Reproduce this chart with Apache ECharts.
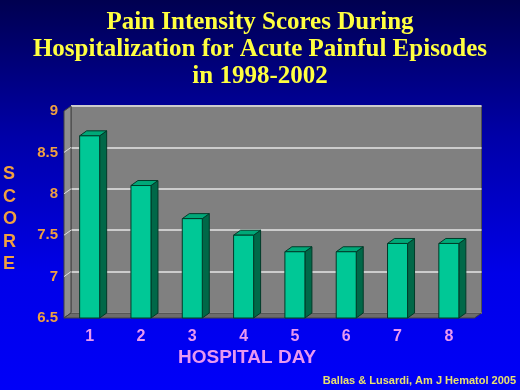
<!DOCTYPE html>
<html>
<head>
<meta charset="utf-8">
<script src="https://cdn.jsdelivr.net/npm/echarts@6/dist/echarts.min.js"></script>
<style>
  html, body { margin: 0; padding: 0; }
  #chart { width: 520px; height: 390px; }
</style>
</head>
<body>
<div id="chart"></div>
<script>
const days = ['1', '2', '3', '4', '5', '6', '7', '8']
const scores = [8.7, 8.1, 7.7, 7.5, 7.3, 7.3, 7.4, 7.4]
const yMin = 6.5
const yMax = 9
const yStep = 0.5

// depth of the fake 3D look (pixels)
const DX = 7
const DY = -5

const chart = echarts.init(document.getElementById('chart'))

function renderBar(params, api) {
  const idx = api.value(0)
  const top = api.coord([idx, api.value(1)])
  const base = api.coord([idx, yMin])
  const band = api.size([1, 0])[0]
  const w = band * 0.39
  const x = top[0] - w / 2
  const yt = top[1]
  const yb = base[1]
  const stroke = '#003a28'
  return {
    type: 'group',
    children: [
      {
        type: 'polygon',
        shape: { points: [[x + w, yt], [x + w + DX, yt + DY], [x + w + DX, yb + DY], [x + w, yb]] },
        style: { fill: '#006848', stroke: stroke, lineWidth: 1 }
      },
      {
        type: 'polygon',
        shape: { points: [[x, yt], [x + DX, yt + DY], [x + w + DX, yt + DY], [x + w, yt]] },
        style: { fill: '#00a878', stroke: stroke, lineWidth: 1 }
      },
      {
        type: 'rect',
        shape: { x: x, y: yt, width: w, height: yb - yt },
        style: { fill: '#00c896', stroke: stroke, lineWidth: 1 }
      }
    ]
  }
}

// floor and left wall drawn once from the front axes
function renderFrame(params, api) {
  const band = api.size([1, 0])[0]
  const first = api.coord([0, yMax])
  const last = api.coord([days.length - 1, yMin])
  const xl = first[0] - band / 2
  const xr = last[0] + band / 2
  const yt = first[1]
  const yb = last[1]
  const kids = [
    {
      type: 'polygon',
      shape: { points: [[xl, yt], [xl + DX, yt + DY], [xl + DX, yb + DY], [xl, yb]] },
      style: { fill: '#8e8e8e', stroke: '#404040', lineWidth: 1 }
    },
    {
      type: 'polygon',
      shape: { points: [[xl, yb], [xl + DX, yb + DY], [xr + DX, yb + DY], [xr, yb]] },
      style: { fill: '#6c6c6c', stroke: '#404040', lineWidth: 1 }
    }
  ]
  for (let v = yMin + yStep; v < yMax - 1e-9; v += yStep) {
    const p = api.coord([0, v])
    kids.push({
      type: 'line',
      shape: { x1: xl, y1: p[1], x2: xl + DX, y2: p[1] + DY },
      style: { stroke: '#e0e0e0', lineWidth: 1 }
    })
  }
  return { type: 'group', children: kids }
}

const option = {
  backgroundColor: {
    type: 'linear', x: 0, y: 0, x2: 0, y2: 1,
    colorStops: [
      { offset: 0, color: '#000050' },
      { offset: 0.35, color: '#0000a8' },
      { offset: 0.7, color: '#0000e8' },
      { offset: 1, color: '#0000f8' }
    ]
  },
  animation: false,
  title: {
    text: 'Pain Intensity Scores During\nHospitalization for Acute Painful Episodes\nin 1998-2002',
    left: 'center',
    top: 4,
    textStyle: {
      color: '#ffff40',
      fontFamily: 'Liberation Serif',
      fontWeight: 'bold',
      fontSize: 25,
      lineHeight: 27
    }
  },
  graphic: [
    {
      type: 'text',
      left: 3,
      top: 163,
      style: {
        text: 'S\nC\nO\nR\nE',
        fill: '#f0a040',
        font: 'bold 18px Liberation Sans',
        lineHeight: 22.5
      }
    },
    {
      type: 'text',
      left: 178,
      top: 348,
      style: {
        text: 'HOSPITAL DAY',
        fill: '#e898f0',
        font: 'bold 19px Liberation Sans'
      }
    },
    {
      type: 'text',
      right: 4,
      top: 375,
      style: {
        text: 'Ballas & Lusardi, Am J Hematol 2005',
        fill: '#e8e070',
        font: 'bold 11px Liberation Sans'
      }
    }
  ],
  grid: [
    { left: 64, right: 45.5, top: 111, bottom: 72 },
    {
      left: 71, right: 38.5, top: 106, bottom: 77,
      show: true, backgroundColor: '#808080', borderColor: '#505050', borderWidth: 1
    }
  ],
  xAxis: [
    {
      type: 'category',
      gridIndex: 0,
      data: days,
      axisLine: { show: false },
      axisTick: { show: false },
      axisLabel: {
        color: '#e898f0',
        fontFamily: 'Liberation Sans',
        fontWeight: 'bold',
        fontSize: 16,
        margin: 11
      }
    },
    {
      type: 'category',
      gridIndex: 1,
      data: days,
      show: false
    }
  ],
  yAxis: [
    {
      type: 'value',
      gridIndex: 0,
      min: yMin,
      max: yMax,
      interval: yStep,
      axisLine: { show: false },
      axisTick: { show: false },
      splitLine: { show: false },
      axisLabel: {
        color: '#f0a040',
        fontFamily: 'Liberation Sans',
        fontWeight: 'bold',
        fontSize: 15,
        margin: 6
      }
    },
    {
      type: 'value',
      gridIndex: 1,
      min: yMin,
      max: yMax,
      interval: yStep,
      axisLine: { show: false },
      axisTick: { show: false },
      axisLabel: { show: false },
      splitLine: { show: true, lineStyle: { color: '#cccccc', width: 2 } }
    }
  ],
  series: [
    {
      type: 'custom',
      xAxisIndex: 0,
      yAxisIndex: 0,
      data: [[0, yMin]],
      renderItem: renderFrame,
      silent: true,
      clip: false,
      z: 1
    },
    {
      type: 'custom',
      name: 'Score',
      xAxisIndex: 0,
      yAxisIndex: 0,
      data: scores.map((s, i) => [i, s]),
      renderItem: renderBar,
      z: 2
    }
  ]
}

chart.setOption(option)
</script>
</body>
</html>
